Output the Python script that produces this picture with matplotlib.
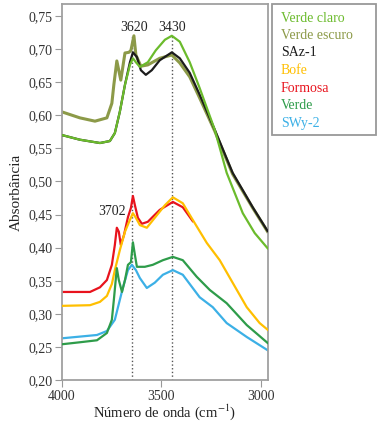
import matplotlib
matplotlib.use("Agg")
import matplotlib.pyplot as plt
from matplotlib.patches import Rectangle

plt.rcParams['font.family'] = ['Liberation Serif', 'DejaVu Serif']
plt.rcParams['mathtext.fontset'] = 'stix'

# espectros (numero de onda em cm-1, absorbancia)
x_claro = [4000, 3910, 3809, 3759, 3734, 3709, 3683, 3658, 3643, 3628, 3608, 3568, 3528, 3482,
           3447, 3407, 3357, 3307, 3231, 3171, 3090, 3030, 2965]
y_claro = [0.570, 0.563, 0.558, 0.561, 0.573, 0.605, 0.646, 0.676, 0.686, 0.680, 0.673, 0.680, 0.698, 0.714,
           0.720, 0.711, 0.680, 0.641, 0.578, 0.513, 0.452, 0.422, 0.399]

x_escuro = [4000, 3910, 3834, 3774, 3749, 3739, 3724, 3704, 3683, 3663, 3653, 3638, 3628, 3603,
            3568, 3508, 3447, 3407, 3357, 3307, 3231, 3141, 3040, 2965]
y_escuro = [0.605, 0.596, 0.591, 0.596, 0.618, 0.646, 0.682, 0.653, 0.694, 0.695, 0.698, 0.720, 0.691, 0.674,
            0.676, 0.686, 0.691, 0.679, 0.658, 0.626, 0.576, 0.511, 0.460, 0.424]

x_saz = [4000, 3910, 3809, 3759, 3734, 3709, 3683, 3658, 3643, 3623, 3603, 3578, 3548, 3508,
         3447, 3407, 3357, 3307, 3231, 3141, 3040, 2965]
y_saz = [0.570, 0.563, 0.558, 0.561, 0.573, 0.605, 0.646, 0.680, 0.695, 0.688, 0.668, 0.661, 0.668, 0.683,
         0.695, 0.686, 0.664, 0.631, 0.578, 0.513, 0.461, 0.425]

x_bofe = [4000, 3859, 3809, 3774, 3749, 3734, 3709, 3683, 3658, 3643, 3628, 3608, 3573, 3533,
          3482, 3442, 3392, 3342, 3271, 3206, 3141, 3070, 3005, 2965]
y_bofe = [0.312, 0.313, 0.318, 0.327, 0.345, 0.366, 0.396, 0.424, 0.442, 0.452, 0.445, 0.434, 0.430, 0.445,
          0.464, 0.476, 0.467, 0.442, 0.407, 0.381, 0.347, 0.310, 0.286, 0.276]

x_formosa = [4000, 3859, 3809, 3774, 3749, 3734, 3724, 3714, 3704, 3688, 3668, 3653, 3643, 3633,
             3618, 3598, 3568, 3508, 3442, 3392, 3342]
y_formosa = [0.333, 0.333, 0.340, 0.351, 0.374, 0.404, 0.430, 0.424, 0.404, 0.419, 0.446, 0.460, 0.478, 0.464,
             0.445, 0.436, 0.439, 0.457, 0.469, 0.461, 0.440]

x_verde = [4000, 3910, 3824, 3774, 3749, 3739, 3724, 3714, 3698, 3683, 3668, 3653, 3643, 3633,
           3623, 3583, 3543, 3492, 3442, 3392, 3322, 3256, 3171, 3070, 2965]
y_verde = [0.254, 0.257, 0.260, 0.271, 0.291, 0.321, 0.369, 0.351, 0.333, 0.351, 0.374, 0.378, 0.408, 0.389,
           0.371, 0.371, 0.374, 0.381, 0.386, 0.381, 0.356, 0.336, 0.316, 0.283, 0.256]

x_swy = [4000, 3824, 3774, 3734, 3693, 3668, 3648, 3628, 3608, 3573, 3533, 3492, 3442, 3392,
         3307, 3241, 3171, 3070, 2965]
y_swy = [0.263, 0.268, 0.274, 0.291, 0.340, 0.366, 0.374, 0.366, 0.354, 0.339, 0.347, 0.359, 0.366, 0.359,
         0.325, 0.310, 0.286, 0.265, 0.245]

nomes = ['Verde claro', 'Verde escuro', 'SAz-1', 'Bofe', 'Formosa', 'Verde', 'SWy-2']
cores = ['#6bbb2c', '#8c9a48', '#1c1c1c', '#ffbf00', '#e8131d', '#2e9c4a', '#3cb0e6']

y_ticks = [0.20, 0.25, 0.30, 0.35, 0.40, 0.45, 0.50, 0.55, 0.60, 0.65, 0.70, 0.75]
y_tick_labels = ['0,20', '0,25', '0,30', '0,35', '0,40', '0,45', '0,50', '0,55', '0,60', '0,65', '0,70', '0,75']
x_ticks = [4000, 3500, 3000]
x_tick_labels = ['4000', '3500', '3000']

# bandas marcadas
bandas_x = [3647, 3447]
bandas_txt = [('3620', 3638, 0.733), ('3430', 3447, 0.733), ('3702', 3749, 0.454)]

fig = plt.figure(figsize=(3.8, 4.24), dpi=100)
ax = fig.add_axes([62 / 380, 44 / 424, 206 / 380, 376 / 424])

for bx in bandas_x:
    ax.plot([bx, bx], [0.20, 0.72], ls=':', color='#555555', lw=1.0, zorder=1)

lw = 1.6
ax.plot(x_escuro, y_escuro, color=cores[1], lw=lw + 0.6, zorder=2)
ax.plot(x_saz, y_saz, color=cores[2], lw=lw, zorder=3)
ax.plot(x_claro, y_claro, color=cores[0], lw=lw, zorder=4)
ax.plot(x_formosa, y_formosa, color=cores[4], lw=lw, zorder=2)
ax.plot(x_bofe, y_bofe, color=cores[3], lw=lw, zorder=3)
ax.plot(x_verde, y_verde, color=cores[5], lw=lw, zorder=3)
ax.plot(x_swy, y_swy, color=cores[6], lw=lw, zorder=2)

for txt, tx, ty in bandas_txt:
    ax.text(tx, ty, txt, ha='center', va='center', fontsize=10, color='#222222')

ax.set_xlim(4000, 2963)
ax.set_ylim(0.20, 0.768)
ax.set_xticks(x_ticks)
ax.set_xticklabels(x_tick_labels)
ax.set_yticks(y_ticks)
ax.set_yticklabels(y_tick_labels)
ax.tick_params(labelsize=10, colors='#333333', length=5, width=0.8, pad=2)
ax.tick_params(axis='both', color='#999999')
for s in ax.spines.values():
    s.set_color('#a0a0a0')
    s.set_linewidth(1.3)

ax.set_ylabel('Absorbância', fontsize=11, color='#222222', labelpad=4)
ax.set_xlabel('Número de onda (cm$^{-1}$)', fontsize=10.5, color='#222222', labelpad=0)

# caixa de legenda feita a mao
fig.patches.append(Rectangle((272 / 380, (424 - 135) / 424), 104 / 380, 131 / 424,
                             transform=fig.transFigure, fill=False,
                             edgecolor='#999999', lw=1.3))
for i, (n, c) in enumerate(zip(nomes, cores)):
    fig.text(281 / 380, (424 - 18 - i * 17.5) / 424, n, color=c, fontsize=10,
             ha='left', va='center')

fig.savefig('out.png', dpi=100)
